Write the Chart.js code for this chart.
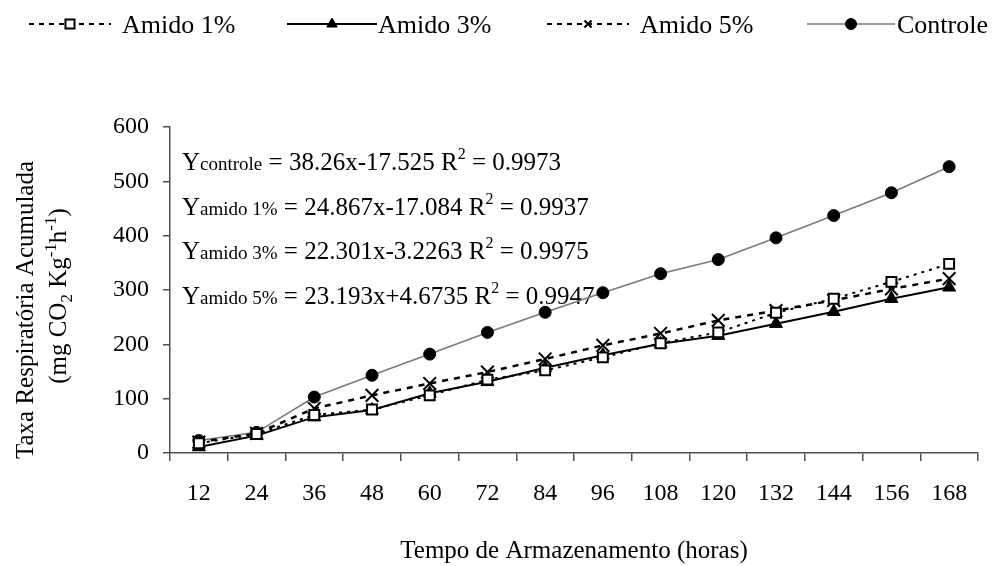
<!DOCTYPE html>
<html>
<head>
<meta charset="utf-8">
<title>Taxa Respiratória Acumulada</title>
<script src="https://cdn.jsdelivr.net/npm/chart.js@4.4.1/dist/chart.umd.min.js"></script>
<style>
  html, body { margin: 0; padding: 0; background: #fff; }
  #wrap { width: 995px; height: 566px; }
</style>
</head>
<body>
<div id="wrap"><canvas id="resp" width="995" height="566"></canvas></div>
<script>
// storage time (hours)
const hours = ['12', '24', '36', '48', '60', '72', '84', '96', '108', '120', '132', '144', '156', '168'];

// accumulated respiration (mg CO2 kg-1 h-1)
const amido1 = [18, 35, 70, 80, 106, 135, 152, 176, 202, 222, 258, 284, 315, 348];
const amido3 = [11, 32, 66, 79, 110, 131, 157, 180, 201, 216, 238, 260, 284, 305];
const amido5 = [20, 36, 82, 106, 128, 149, 173, 198, 220, 244, 262, 281, 302, 321];
const controle = [23, 38, 103, 143, 182, 222, 259, 295, 330, 356, 396, 437, 479, 527];

const seriesNames = ['Amido 1%', 'Amido 3%', 'Amido 5%', 'Controle'];
const yTicks = [0, 100, 200, 300, 400, 500, 600];

// regression equations: [subscript, body, r2]
const equations = [
  ['controle', ' = 38.26x-17.525 R', ' = 0.9973'],
  ['amido 1%', ' = 24.867x-17.084 R', ' = 0.9937'],
  ['amido 3%', ' = 22.301x-3.2263 R', ' = 0.9975'],
  ['amido 5%', ' = 23.193x+4.6735 R', ' = 0.9947']
];

const SERIF = '"Liberation Serif", "Times New Roman", serif';
const font = size => size + 'px ' + SERIF;

function drawRich(ctx, x, y, parts) {
  parts.forEach(p => {
    ctx.font = font(p.size);
    ctx.fillText(p.t, x, y + (p.dy || 0));
    x += ctx.measureText(p.t).width;
  });
  return x;
}

function richWidth(ctx, parts) {
  let w = 0;
  parts.forEach(p => { ctx.font = font(p.size); w += ctx.measureText(p.t).width; });
  return w;
}

// legend drawn as line sample + marker + label, like the spreadsheet legend
const legendSlots = [
  { x: 29, w: 82, r: 6.4, tx: 122 },
  { x: 287, w: 90, r: 6, tx: 378 },
  { x: 547, w: 82, r: 5, tx: 640 },
  { x: 807, w: 88, r: 5.5, tx: 897 }
];

const legendPlugin = {
  id: 'sheetLegend',
  afterDraw(chart) {
    const ctx = chart.ctx;
    const y = 24;
    chart.data.datasets.forEach((ds, i) => {
      const s = legendSlots[i];
      ctx.save();
      ctx.strokeStyle = ds.borderColor;
      ctx.lineWidth = Math.min(ds.borderWidth, 2);
      ctx.setLineDash(ds.legendDash || ds.borderDash || []);
      ctx.beginPath();
      ctx.moveTo(s.x, y);
      ctx.lineTo(s.x + s.w, y);
      ctx.stroke();
      ctx.setLineDash([]);
      ctx.fillStyle = ds.pointBackgroundColor;
      ctx.strokeStyle = ds.pointBorderColor;
      ctx.lineWidth = ds.pointBorderWidth;
      Chart.helpers.drawPoint(ctx, {
        pointStyle: ds.pointStyle, radius: s.r, rotation: 0, borderWidth: ds.pointBorderWidth
      }, s.x + s.w / 2, y);
      ctx.fillStyle = '#000';
      ctx.font = font(26);
      ctx.textBaseline = 'alphabetic';
      ctx.fillText(ds.label, s.tx, 33);
      ctx.restore();
    });
  }
};

// axis titles and the regression equations
const textPlugin = {
  id: 'sheetText',
  beforeDatasetsDraw(chart) {
    const ctx = chart.ctx;
    const area = chart.chartArea;
    ctx.save();
    ctx.fillStyle = '#000';
    ctx.textBaseline = 'alphabetic';
    equations.forEach((eq, i) => {
      const parts = [
        { t: 'Y', size: 25 },
        { t: eq[0], size: 19 },
        { t: eq[1], size: 25 },
        { t: '2', size: 16, dy: -11 },
        { t: eq[2], size: 25 }
      ];
      drawRich(ctx, area.left + 12, area.top + 43 + i * 44.6, parts);
    });
    ctx.restore();
  },
  afterDraw(chart) {
    const ctx = chart.ctx;
    const area = chart.chartArea;
    ctx.save();
    ctx.fillStyle = '#000';
    ctx.textBaseline = 'alphabetic';

    // x title
    const xt = [{ t: 'Tempo de Armazenamento (horas)', size: 25 }];
    const xw = richWidth(ctx, xt);
    drawRich(ctx, (area.left + area.right) / 2 - xw / 2, 558, xt);

    // y title, two rotated lines
    const l1 = [{ t: 'Taxa Respiratória Acumulada', size: 25 }];
    const l2 = [
      { t: '(mg CO', size: 25 },
      { t: '2', size: 17, dy: 6 },
      { t: ' Kg', size: 25 },
      { t: '-1', size: 17, dy: -10 },
      { t: 'h', size: 25 },
      { t: '-1', size: 17, dy: -10 },
      { t: ')', size: 25 }
    ];
    const mid = (area.top + area.bottom) / 2;
    [[l1, 33, mid + 20], [l2, 66, mid + 6]].forEach(([parts, bx, cy]) => {
      ctx.save();
      ctx.translate(bx, cy);
      ctx.rotate(-Math.PI / 2);
      drawRich(ctx, -richWidth(ctx, parts) / 2, 0, parts);
      ctx.restore();
    });
    ctx.restore();
  }
};

const axisColor = '#505050';

new Chart(document.getElementById('resp'), {
  type: 'line',
  data: {
    labels: hours,
    datasets: [
      {
        label: seriesNames[0], data: amido1,
        borderColor: '#000', borderWidth: 2, borderDash: [3, 5], legendDash: [5, 5],
        pointStyle: 'rect', pointRadius: 7, pointBorderWidth: 2,
        pointBackgroundColor: '#fff', pointBorderColor: '#000'
      },
      {
        label: seriesNames[1], data: amido3,
        borderColor: '#000', borderWidth: 2,
        pointStyle: 'triangle', pointRadius: 7.5, pointBorderWidth: 1,
        pointBackgroundColor: '#000', pointBorderColor: '#000'
      },
      {
        label: seriesNames[2], data: amido5,
        borderColor: '#000', borderWidth: 2.5, borderDash: [6, 6], legendDash: [5, 5],
        pointStyle: 'crossRot', pointRadius: 9, pointBorderWidth: 2,
        pointBackgroundColor: '#000', pointBorderColor: '#000'
      },
      {
        label: seriesNames[3], data: controle,
        borderColor: '#7a7a7a', borderWidth: 1.6,
        pointStyle: 'circle', pointRadius: 6, pointBorderWidth: 1,
        pointBackgroundColor: '#000', pointBorderColor: '#000'
      }
    ]
  },
  options: {
    responsive: false,
    animation: false,
    layout: { padding: { top: 127, right: 17, bottom: 0, left: 0 } },
    plugins: {
      legend: { display: false },
      tooltip: { enabled: false }
    },
    elements: { line: { tension: 0 } },
    scales: {
      x: {
        type: 'category',
        offset: true,
        grid: {
          offset: true, drawOnChartArea: false, drawTicks: true,
          tickLength: 8, color: axisColor, lineWidth: 1.5
        },
        border: { display: true, color: axisColor, width: 1.5 },
        ticks: { color: '#000', font: { family: SERIF, size: 24 }, padding: 18, maxRotation: 0, autoSkip: false },
        afterFit(scale) { scale.height = 113; }
      },
      y: {
        min: 0, max: 600,
        afterBuildTicks(scale) { scale.ticks = yTicks.map(v => ({ value: v })); },
        grid: {
          drawOnChartArea: false, drawTicks: true,
          tickLength: 7, color: axisColor, lineWidth: 1.5
        },
        border: { display: true, color: axisColor, width: 1.5 },
        ticks: { color: '#000', font: { family: SERIF, size: 24 }, padding: 14 },
        afterFit(scale) { scale.width = 170; }
      }
    }
  },
  plugins: [textPlugin, legendPlugin]
});
</script>
</body>
</html>
